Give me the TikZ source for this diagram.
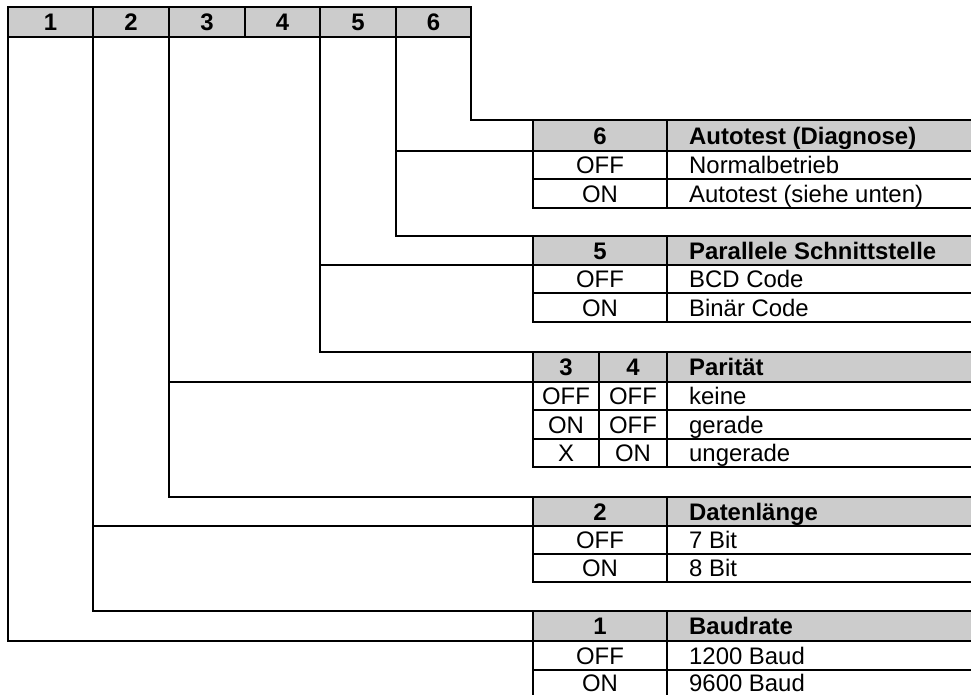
\documentclass[tikz,border=0pt]{standalone}
\usepackage{fontspec}
\setmainfont{Liberation Sans}
\definecolor{hgray}{HTML}{CCCCCC}
\newcommand\fsz{\fontsize{23.9}{28}\selectfont}
\tikzset{
  grid/.style={line width=1.6pt},
  hcell/.style={draw, fill=hgray, line width=1.6pt, outer sep=0pt, inner sep=0pt,
    minimum height=30pt, font=\fsz\bfseries, text height=17.1pt, text depth=0pt},
  ctext/.style={inner sep=0pt, font=\fsz, text height=17.1pt, text depth=0pt},
  btext/.style={ctext, font=\fsz\bfseries},
  ltext/.style={ctext, anchor=west},
  lbtext/.style={btext, anchor=west},
  conn/.style={line width=1.6pt},
}
\begin{document}
\begin{tikzpicture}[x=1pt,y=-1pt]
\useasboundingbox (0,0) rectangle (971,695);

% ---------- switch header ----------
\node[hcell, minimum width=85pt] (h1) at (50.5,22) {1};
\node[hcell, minimum width=76pt] (h2) at (131,22) {2};
\node[hcell, minimum width=76pt] (h3) at (207,22) {3};
\node[hcell, minimum width=75pt] (h4) at (282.5,22) {4};
\node[hcell, minimum width=76pt] (h5) at (358,22) {5};
\node[hcell, minimum width=75pt] (h6) at (433.5,22) {6};

% ---------- table anchor coordinates ----------
\coordinate (t6) at (533,120);  \coordinate (t6h) at (533,151);
\coordinate (t5) at (533,236);  \coordinate (t5h) at (533,265);
\coordinate (t34) at (533,352); \coordinate (t34h) at (533,382);
\coordinate (t2) at (533,497);  \coordinate (t2h) at (533,526);
\coordinate (t1) at (533,611);  \coordinate (t1h) at (533,641);

% ---------- header fills ----------
\fill[hgray] (533,120) rectangle (971,151);
\fill[hgray] (533,236) rectangle (971,265);
\fill[hgray] (533,352) rectangle (971,382);
\fill[hgray] (533,497) rectangle (971,526);
\fill[hgray] (533,611) rectangle (971,641);

% ---------- table grids ----------
% table 6
\draw[grid] (971,120) -- (533,120) -- (533,208) -- (971,208);
\draw[grid] (533,151) -- (971,151) (533,179) -- (971,179) (667,120) -- (667,208);
% table 5
\draw[grid] (971,236) -- (533,236) -- (533,322) -- (971,322);
\draw[grid] (533,265) -- (971,265) (533,293) -- (971,293) (667,236) -- (667,322);
% table 3/4
\draw[grid] (971,352) -- (533,352) -- (533,467) -- (971,467);
\draw[grid] (533,382) -- (971,382) (533,410) -- (971,410) (533,439) -- (971,439);
\draw[grid] (599,352) -- (599,467) (667,352) -- (667,467);
% table 2
\draw[grid] (971,497) -- (533,497) -- (533,582) -- (971,582);
\draw[grid] (533,526) -- (971,526) (533,554) -- (971,554) (667,497) -- (667,582);
% table 1
\draw[grid] (971,611) -- (533,611) -- (533,695);
\draw[grid] (533,641) -- (971,641) (533,670) -- (971,670) (667,611) -- (667,695);

% ---------- connectors ----------
\draw[conn] (h6.south east) |- (t6);
\draw[conn] (h6.south west) |- (t5);
\coordinate (j6) at (h6.south west |- t6h);
\draw[conn] (j6) -- (t6h);
\draw[conn] (h5.south west) |- (t34);
\coordinate (j5) at (h5.south west |- t5h);
\draw[conn] (j5) -- (t5h);
\draw[conn] (h3.south west) |- (t2);
\coordinate (j3) at (h3.south west |- t34h);
\draw[conn] (j3) -- (t34h);
\draw[conn] (h2.south west) |- (t1);
\coordinate (j2) at (h2.south west |- t2h);
\draw[conn] (j2) -- (t2h);
\draw[conn] (h1.south west) |- (t1h);

% ---------- table texts ----------
% table 6
\node[btext] (t6n) at (600,135.5) {6};
\node[lbtext] (t6t) at (689,135.5) {Autotest (Diagnose)};
\node[ctext] (t6a) at (600,165) {OFF};
\node[ltext] (t6at) at (689,165) {Normalbetrieb};
\node[ctext] (t6b) at (600,193.5) {ON};
\node[ltext] (t6bt) at (689,193.5) {Autotest (siehe unten)};
% table 5
\node[btext] (t5n) at (600,250.5) {5};
\node[lbtext] (t5t) at (689,250.5) {Parallele Schnittstelle};
\node[ctext] (t5a) at (600,279) {OFF};
\node[ltext] (t5at) at (689,279) {BCD Code};
\node[ctext] (t5b) at (600,307.5) {ON};
\node[ltext] (t5bt) at (689,307.5) {Binär Code};
% table 3/4
\node[btext] (t34n3) at (566,367) {3};
\node[btext] (t34n4) at (633,367) {4};
\node[lbtext] (t34t) at (689,367) {Parität};
\node[ctext] (t34a3) at (566,396) {OFF};
\node[ctext] (t34a4) at (633,396) {OFF};
\node[ltext] (t34at) at (689,396) {keine};
\node[ctext] (t34b3) at (566,424.5) {ON};
\node[ctext] (t34b4) at (633,424.5) {OFF};
\node[ltext] (t34bt) at (689,424.5) {gerade};
\node[ctext] (t34c3) at (566,453) {X};
\node[ctext] (t34c4) at (633,453) {ON};
\node[ltext] (t34ct) at (689,453) {ungerade};
% table 2
\node[btext] (t2n) at (600,511.5) {2};
\node[lbtext] (t2t) at (689,511.5) {Datenlänge};
\node[ctext] (t2a) at (600,540) {OFF};
\node[ltext] (t2at) at (689,540) {7 Bit};
\node[ctext] (t2b) at (600,568) {ON};
\node[ltext] (t2bt) at (689,568) {8 Bit};
% table 1
\node[btext] (t1n) at (600,626) {1};
\node[lbtext] (t1t) at (689,626) {Baudrate};
\node[ctext] (t1a) at (600,655.5) {OFF};
\node[ltext] (t1at) at (689,655.5) {1200 Baud};
\node[ctext] (t1b) at (600,683) {ON};
\node[ltext] (t1bt) at (689,683) {9600 Baud};
\end{tikzpicture}
\end{document}
